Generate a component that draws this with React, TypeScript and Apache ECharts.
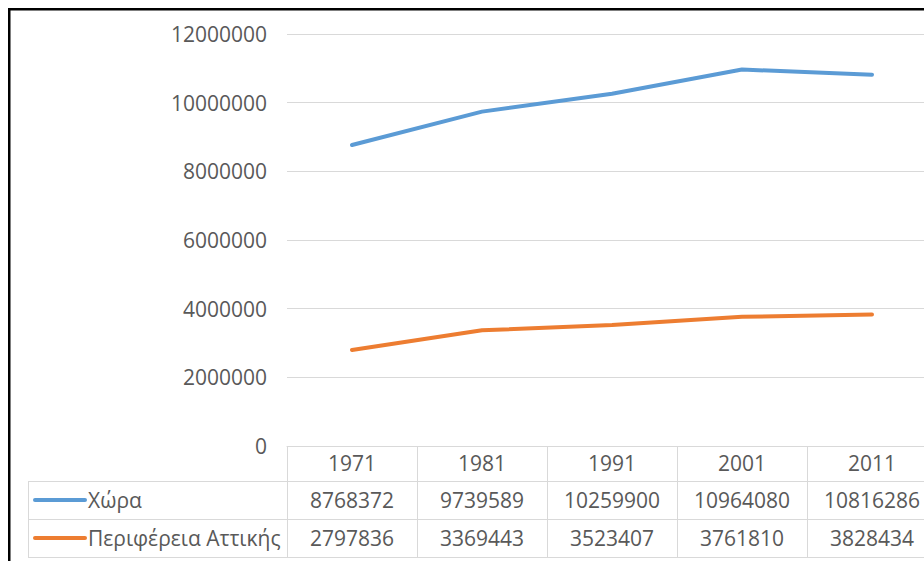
import React, { useEffect, useRef } from "react";
import * as echarts from "echarts";

const years = ["1971", "1981", "1991", "2001", "2011"];
const seriesNames = ["Χώρα", "Περιφέρεια Αττικής"];
const countryValues = [8768372, 9739589, 10259900, 10964080, 10816286];
const atticaValues = [2797836, 3369443, 3523407, 3761810, 3828434];
const yMin = 0;
const yMax = 12000000;
const yInterval = 2000000;

const colors = ["#5B9BD5", "#ED7D31"];
const textColor = "#595959";
const gridColor = "#D9D9D9";
const fontFamily = "'Open Sans', 'Noto Sans', sans-serif";
const fontSize = 21;

// layout
const chartWidth = 960;
const plotLeft = 287;
const plotTop = 34;
const plotWidth = 650;
const plotBottom = 446;
const rowLines = [481, 519, 557];
const headerLeft = 28;

export default function App() {
  const ref = useRef<HTMLDivElement>(null);

  useEffect(() => {
    if (!ref.current) return;
    const chart = echarts.init(ref.current, undefined, { renderer: "svg" });

    const label = (margin: number) => ({
      show: true,
      interval: 0,
      margin,
      verticalAlign: "middle" as const,
      fontSize,
      fontFamily,
      color: textColor,
    });
    const line = { show: true, lineStyle: { color: gridColor, width: 1 } };

    const rowData = [countryValues, atticaValues];
    const graphics: any[] = [
      {
        type: "rect",
        shape: { x: 9.25, y: 9.25, width: 2000, height: 2000 },
        style: { fill: "none", stroke: "#000", lineWidth: 2.5 },
        z: 100,
      },
      {
        type: "line",
        shape: { x1: headerLeft + 0.5, y1: rowLines[0], x2: headerLeft + 0.5, y2: rowLines[2] },
        style: { stroke: gridColor, lineWidth: 1 },
      },
    ];
    rowLines.forEach((y) => {
      graphics.push({
        type: "line",
        shape: { x1: headerLeft, y1: y + 0.5, x2: plotLeft, y2: y + 0.5 },
        style: { stroke: gridColor, lineWidth: 1 },
      });
    });
    seriesNames.forEach((name, i) => {
      const cy = (rowLines[i] + rowLines[i + 1]) / 2;
      graphics.push({
        type: "line",
        shape: { x1: 35, y1: cy, x2: 85, y2: cy },
        style: { stroke: colors[i], lineWidth: 4, lineCap: "round" },
      });
      graphics.push({
        type: "text",
        x: 88,
        y: cy,
        style: {
          text: name,
          fill: textColor,
          fontSize,
          fontFamily,
          verticalAlign: "middle",
          align: "left",
        },
      });
    });

    chart.setOption({
      animation: false,
      backgroundColor: "#ffffff",
      grid: {
        left: plotLeft,
        top: plotTop,
        width: plotWidth,
        height: plotBottom - plotTop,
        containLabel: false,
      },
      xAxis: [
        {
          type: "category",
          data: years,
          boundaryGap: true,
          axisLine: line,
          axisTick: {
            show: true,
            length: rowLines[2] - plotBottom,
            lineStyle: { color: gridColor, width: 1 },
          },
          axisLabel: label(17),
          splitLine: { show: false },
        },
        {
          type: "category",
          data: rowData[0].map(String),
          position: "bottom",
          offset: rowLines[0] - plotBottom,
          axisLine: line,
          axisTick: { show: false },
          axisLabel: label(19),
        },
        {
          type: "category",
          data: rowData[1].map(String),
          position: "bottom",
          offset: rowLines[1] - plotBottom,
          axisLine: line,
          axisTick: { show: false },
          axisLabel: label(19),
        },
        {
          type: "category",
          data: years,
          position: "bottom",
          offset: rowLines[2] - plotBottom,
          axisLine: line,
          axisTick: { show: false },
          axisLabel: { show: false },
        },
      ],
      yAxis: {
        type: "value",
        min: yMin,
        max: yMax,
        interval: yInterval,
        axisLine: { show: false },
        axisTick: { show: false },
        splitLine: { show: true, lineStyle: { color: gridColor, width: 1 } },
        axisLabel: {
          margin: 20,
          fontSize,
          fontFamily,
          color: textColor,
          formatter: (v: number) => String(v),
        },
      },
      series: [
        {
          name: seriesNames[0],
          type: "line",
          data: countryValues,
          xAxisIndex: 0,
          symbol: "none",
          lineStyle: { color: colors[0], width: 4, cap: "round", join: "round" },
          itemStyle: { color: colors[0] },
        },
        {
          name: seriesNames[1],
          type: "line",
          data: atticaValues,
          xAxisIndex: 0,
          symbol: "none",
          lineStyle: { color: colors[1], width: 4, cap: "round", join: "round" },
          itemStyle: { color: colors[1] },
        },
      ],
      graphic: graphics,
    });

    return () => chart.dispose();
  }, []);

  return (
    <div
      style={{
        position: "fixed",
        left: 0,
        top: 0,
        width: 924,
        height: 561,
        overflow: "hidden",
        background: "#fff",
      }}
    >
      <div ref={ref} style={{ width: chartWidth, height: 561 }} />
    </div>
  );
}
